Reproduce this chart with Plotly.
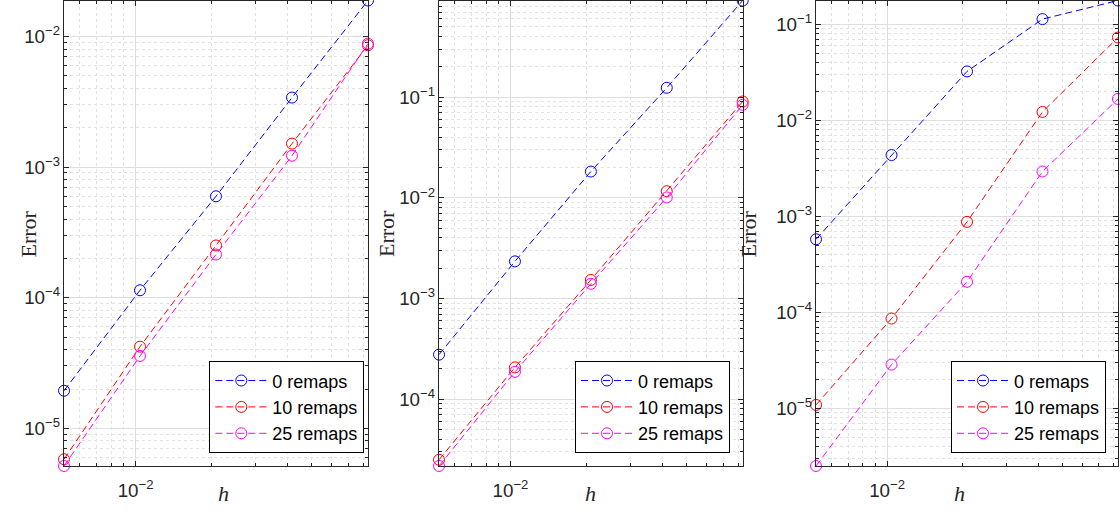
import numpy as np
import plotly.graph_objects as go

# ---- data ----
h = [1/192, 1/96, 1/48, 1/24, 1/12]
series_names = ["0 remaps", "10 remaps", "25 remaps"]
series_colors = ["#0000ff", "#ff0000", "#ff00ff"]

p1_e0 = [1.94e-5, 1.14e-4, 5.97e-4, 3.40e-3, 1.88e-2]
p1_e10 = [5.8e-6, 4.22e-5, 2.51e-4, 1.51e-3, 8.55e-3]
p1_e25 = [5.15e-6, 3.58e-5, 2.14e-4, 1.22e-3, 8.8e-3]

p2_e0 = [2.77e-4, 2.34e-3, 1.825e-2, 0.124, 0.912]
p2_e10 = [2.5e-5, 2.07e-4, 1.53e-3, 1.164e-2, 9.06e-2]
p2_e25 = [2.17e-5, 1.87e-4, 1.40e-3, 1.01e-2, 8.4e-2]

p3_e0 = [5.8e-4, 4.37e-3, 3.25e-2, 0.114, 0.178]
p3_e10 = [1.09e-5, 8.66e-5, 8.8e-4, 1.23e-2, 7.33e-2]
p3_e25 = [2.52e-6, 2.87e-5, 2.09e-4, 2.95e-3, 1.68e-2]

panels = [[p1_e0, p1_e10, p1_e25], [p2_e0, p2_e10, p2_e25], [p3_e0, p3_e10, p3_e25]]

W, H = 1120, 522
x_domains = [(64/W, 368/W), (439/W, 742.7/W), (816/W, 1118/W)]
y_domain = ((H-466)/H, 0.999)
legend_right = [364.3/W, 730/W, 1106/W]
EPS = 1e-4

fig = go.Figure()
AX = "#262626"
for p, series in enumerate(panels):
    sfx = "" if p == 0 else str(p+1)
    for s, vals in enumerate(series):
        fig.add_trace(go.Scatter(
            x=h, y=vals, mode="lines+markers", name=series_names[s],
            line=dict(color=series_colors[s], width=1, dash="7px,4px"),
            marker=dict(symbol="circle-open", size=11, color=series_colors[s],
                        line=dict(width=1, color=series_colors[s])),
            xaxis="x"+sfx, yaxis="y"+sfx, legend="legend"+sfx,
            cliponaxis=False,
        ))
    allv = [v for ser in series for v in ser]
    common = dict(type="log", showline=True, linecolor=AX, linewidth=1, mirror="ticks",
                  ticks="inside", ticklen=5, tickcolor=AX, dtick=1,
                  exponentformat="power", showexponent="all",
                  tickfont=dict(family="Liberation Sans, Arial", size=15, color=AX),
                  showgrid=True, gridcolor="#dedede", gridwidth=1, zeroline=False,
                  minor=dict(dtick="D1", ticks="inside", ticklen=3, tickcolor=AX,
                             showgrid=True, gridcolor="#e2e2e2", griddash="dot"))
    fig.update_layout(**{
        "xaxis"+sfx: dict(common, domain=list(x_domains[p]), anchor="y"+sfx,
                          range=[np.log10(min(h)) - EPS, np.log10(max(h)) + EPS],
                          ticklabelstandoff=8),
        "yaxis"+sfx: dict(common, domain=list(y_domain), anchor="x"+sfx,
                          range=[np.log10(min(allv)) - EPS, np.log10(max(allv)) + EPS]),
        "legend"+sfx: dict(x=legend_right[p], y=(H-453.3)/H, xanchor="right", yanchor="bottom",
                           bgcolor="white", bordercolor="black", borderwidth=1,
                           font=dict(family="Liberation Sans, Arial", size=18, color="black"),
                           itemwidth=52, tracegroupgap=0),
    })
    cx = (x_domains[p][0] + x_domains[p][1]) / 2
    fig.add_annotation(text="<i>h</i>", x=cx, y=(H-508)/H, xref="paper", yref="paper",
                       showarrow=False, font=dict(family="Liberation Serif, serif", size=22, color=AX))
    ex = [13, 386, 762][p] / W
    fig.add_annotation(text="Error", x=ex, y=(H-234)/H, xref="paper", yref="paper",
                       textangle=-90, showarrow=False,
                       font=dict(family="Liberation Serif, serif", size=22, color=AX))

fig.update_layout(width=W, height=H, margin=dict(l=0, r=0, t=0, b=0),
                  paper_bgcolor="white", plot_bgcolor="white")
fig.write_html("out.html", config={"displayModeBar": False},
               post_script="document.body.style.margin='0';")
